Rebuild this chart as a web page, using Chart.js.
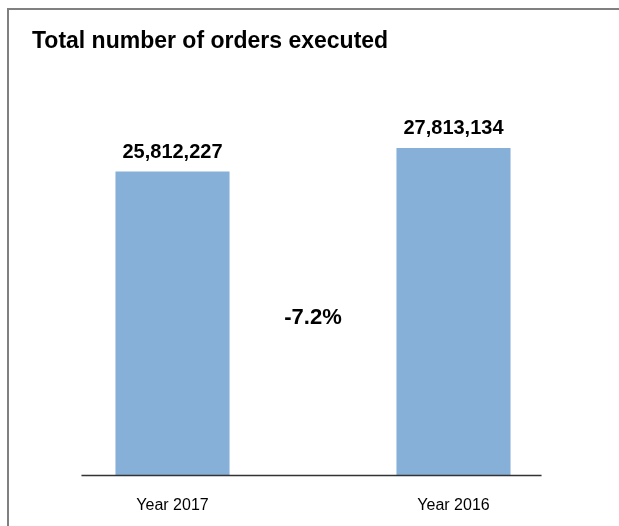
<!DOCTYPE html>
<html>
<head>
<meta charset="utf-8">
<script src="https://cdn.jsdelivr.net/npm/chart.js@4/dist/chart.umd.min.js"></script>
<style>
  html, body { margin: 0; padding: 0; width: 619px; height: 526px; overflow: hidden; background: #fff; }
  #frame { position: absolute; left: 7px; top: 8px; width: 700px; height: 600px; border: 2px solid #808080; box-sizing: border-box; }
  #wrap { position: absolute; left: 0; top: 0; width: 619px; height: 526px; }
</style>
</head>
<body>
<div id="frame"></div>
<div id="wrap"><canvas id="c" width="619" height="526"></canvas></div>
<script>
const categories = ["Year 2017", "Year 2016"];
const orders = [25812227, 27813134];
const titleText = "Total number of orders executed";

const FONT = "'Liberation Sans', Arial, sans-serif";

const changePct = (orders[0] / orders[1] - 1) * 100;
const changeLabel = changePct.toFixed(1) + "%";

const labelPlugin = {
  id: 'labels',
  afterDatasetsDraw(chart) {
    const ctx = chart.ctx;
    const meta = chart.getDatasetMeta(0);
    const ys = chart.scales.y;
    ctx.save();
    ctx.fillStyle = '#000';
    ctx.textAlign = 'center';
    ctx.textBaseline = 'alphabetic';
    ctx.font = "bold 20px " + FONT;
    meta.data.forEach((bar, i) => {
      ctx.fillText(orders[i].toLocaleString('en-US'), bar.x, bar.y - 14);
    });
    // change label between bars
    ctx.font = "bold 22px " + FONT;
    ctx.textBaseline = 'middle';
    const mx = (meta.data[0].x + meta.data[1].x) / 2;
    ctx.fillText(changeLabel, mx, ys.getPixelForValue(13.35e6));
    // baseline
    const b0 = meta.data[0], b1 = meta.data[meta.data.length - 1];
    const y0 = Math.round(ys.getPixelForValue(0)) + 0.5;
    ctx.strokeStyle = '#333333';
    ctx.lineWidth = 1.5;
    ctx.beginPath();
    ctx.moveTo(b0.x - b0.width / 2 - 34, y0);
    ctx.lineTo(b1.x + b1.width / 2 + 31, y0);
    ctx.stroke();
    ctx.restore();
  }
};

new Chart(document.getElementById('c'), {
  type: 'bar',
  data: {
    labels: categories,
    datasets: [{
      data: orders,
      backgroundColor: '#86b0d8',
      borderWidth: 0,
      barPercentage: 0.406,
      categoryPercentage: 1.0
    }]
  },
  options: {
    responsive: false,
    animation: false,
    devicePixelRatio: 1,
    layout: { padding: { left: 32, right: 25, top: 0, bottom: 0 } },
    plugins: {
      legend: { display: false },
      tooltip: { enabled: false },
      title: {
        display: true,
        text: titleText,
        align: 'start',
        color: '#000',
        font: { family: FONT, size: 23, weight: 'bold', lineHeight: 1.2 },
        padding: { top: 28, bottom: 8 }
      }
    },
    scales: {
      x: {
        grid: { display: false, drawTicks: false, tickLength: 0 },
        border: { display: false },
        ticks: { color: '#000', font: { family: FONT, size: 16 }, padding: 21 },
        afterFit(scale) { scale.height = 51; }
      },
      y: {
        display: false,
        min: 0,
        max: 35000000
      }
    }
  },
  plugins: [labelPlugin]
});
</script>
</body>
</html>
